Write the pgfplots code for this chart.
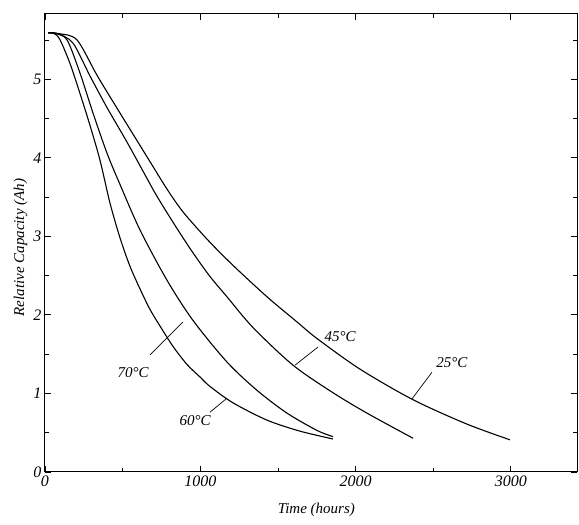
\documentclass[border=0pt]{standalone}
\usepackage{fontspec}
\setmainfont{Liberation Serif}
\usepackage{pgfplots}
\pgfplotsset{compat=1.18}
\begin{document}
\begin{tikzpicture}[x=1pt,y=1pt]
\useasboundingbox (-45,-53) rectangle (534,472);
\begin{axis}[
  scale only axis, width=532pt, height=458pt,
  xmin=0, xmax=3426, ymin=0, ymax=5.83,
  xtick={0,1000,2000,3000}, minor xtick={500,1500,2500},
  ytick={0,1,2,3,4,5}, minor ytick={0.5,1.5,2.5,3.5,4.5,5.5},
  tick align=inside, major tick length=6pt, minor tick length=4pt,
  tick style={black, line width=0.8pt},
  axis line style={line width=1pt},
  scaled x ticks=false,
  /pgf/number format/1000 sep=,
  /pgf/number format/assume math mode=true,
  tick label style={font=\fontsize{16}{18}\selectfont\itshape},
  xlabel={Time (hours)},
  ylabel={Relative Capacity (Ah)},
  label style={font=\fontsize{15}{17}\selectfont\itshape},
  xlabel style={at={(axis description cs:0.51,0)}, anchor=north, yshift=-28pt},
  ylabel style={at={(axis description cs:0,0.49)}, anchor=south, yshift=14pt},
]
% curve 1 (steepest)
\addplot[black, line width=1.1pt, smooth, tension=0.5] coordinates {(20,5.59) (60,5.58) (97,5.50) (161,5.20) (225,4.82) (290,4.41) (354,3.97) (419,3.42) (483,2.98) (547,2.62) (612,2.33) (676,2.07) (740,1.86) (824,1.60) (914,1.37) (998,1.21) (1062,1.09) (1211,0.88) (1430,0.66) (1642,0.52) (1855,0.42)};
% curve 2
\addplot[black, line width=1.1pt, smooth, tension=0.5] coordinates {(20,5.59) (70,5.58) (142,5.50) (225,5.08) (309,4.57) (399,4.06) (483,3.66) (612,3.08) (786,2.44) (953,1.93) (1172,1.40) (1365,1.04) (1558,0.75) (1751,0.53) (1855,0.45)};
% curve 3 (45 C)
\addplot[black, line width=1.1pt, smooth, tension=0.5] coordinates {(20,5.59) (80,5.58) (180,5.46) (290,5.04) (399,4.64) (528,4.20) (631,3.83) (721,3.51) (837,3.14) (953,2.79) (1062,2.49) (1172,2.23) (1339,1.84) (1597,1.36) (1854,1.01) (2073,0.75) (2370,0.43)};
% curve 4 (25 C)
\addplot[black, line width=1.1pt, smooth, tension=0.5] coordinates {(20,5.59) (90,5.58) (206,5.50) (335,5.05) (464,4.63) (592,4.22) (695,3.89) (786,3.60) (889,3.31) (1050,2.95) (1211,2.63) (1430,2.23) (1623,1.91) (1751,1.70) (2028,1.31) (2370,0.92) (2717,0.61) (2994,0.41)};
% leaders and labels
\draw[line width=0.7pt] (axis cs:676,1.49) -- (axis cs:889,1.91);
\draw[line width=0.7pt] (axis cs:1062,0.76) -- (axis cs:1172,0.94);
\draw[line width=0.7pt] (axis cs:1758,1.59) -- (axis cs:1610,1.36);
\draw[line width=0.7pt] (axis cs:2492,1.27) -- (axis cs:2363,0.93);
\node[font=\fontsize{15}{17}\selectfont\itshape] at (axis cs:567,1.26) {70°C};
\node[font=\fontsize{15}{17}\selectfont\itshape] at (axis cs:966,0.65) {60°C};
\node[font=\fontsize{15}{17}\selectfont\itshape] at (axis cs:1900,1.73) {45°C};
\node[font=\fontsize{15}{17}\selectfont\itshape] at (axis cs:2621,1.39) {25°C};
\end{axis}
\end{tikzpicture}
\end{document}
